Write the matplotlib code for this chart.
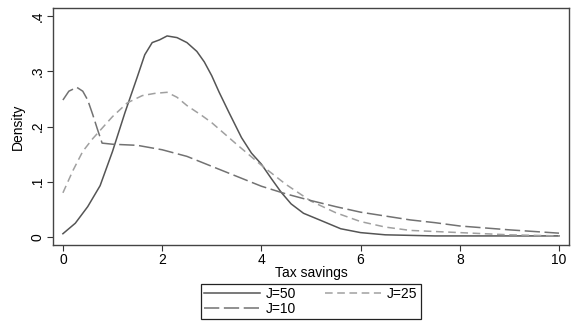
import matplotlib
matplotlib.use("Agg")
import matplotlib.pyplot as plt

plt.rcParams['font.family'] = ['Liberation Sans', 'DejaVu Sans']

# --- values ---
x50 = [0.0, 0.25, 0.5, 0.75, 1.0, 1.25, 1.5, 1.65, 1.8, 1.95, 2.1, 2.3, 2.5,
       2.7, 2.85, 3.0, 3.15, 3.35, 3.6, 3.8, 4.0, 4.2, 4.4, 4.6, 4.85, 5.2,
       5.6, 6.0, 6.5, 7.5, 10.0]
d50 = [0.006, 0.025, 0.055, 0.093, 0.155, 0.225, 0.29, 0.33, 0.352, 0.357,
       0.364, 0.361, 0.352, 0.336, 0.317, 0.292, 0.262, 0.225, 0.18, 0.152,
       0.132, 0.106, 0.081, 0.06, 0.043, 0.03, 0.015, 0.008, 0.004, 0.002,
       0.002]

x25 = [0.0, 0.2, 0.4, 0.6, 0.8, 1.0, 1.3, 1.6, 1.85, 2.1, 2.3, 2.5, 2.8, 3.0,
       3.5, 4.0, 4.5, 5.0, 5.5, 6.0, 6.5, 7.0, 8.0, 9.0, 10.0]
d25 = [0.08, 0.12, 0.155, 0.178, 0.198, 0.218, 0.243, 0.256, 0.26, 0.262,
       0.253, 0.238, 0.22, 0.207, 0.168, 0.13, 0.095, 0.065, 0.044, 0.028,
       0.018, 0.012, 0.008, 0.004, 0.002]

x10 = [0.0, 0.12, 0.28, 0.4, 0.5, 0.6, 0.7, 0.79, 1.0, 1.5, 2.0, 2.5, 3.0,
       3.5, 4.0, 4.5, 5.0, 5.5, 6.0, 6.5, 7.0, 7.5, 8.0, 9.0, 10.0]
d10 = [0.248, 0.264, 0.271, 0.264, 0.248, 0.222, 0.194, 0.17, 0.168, 0.166,
       0.158, 0.146, 0.128, 0.11, 0.092, 0.078, 0.066, 0.055, 0.045, 0.038,
       0.031, 0.026, 0.02, 0.013, 0.007]

xticks = [0, 2, 4, 6, 8, 10]
yticks = [0, 0.1, 0.2, 0.3, 0.4]
ylabels = ['0', '.1', '.2', '.3', '.4']

fs = 10

fig = plt.figure(figsize=(5.81, 3.22), dpi=100)
ax = fig.add_axes([0.0912, 0.239, 0.888, 0.736])

l50, = ax.plot(x50, d50, color='#555555', lw=1.1, label='J=50')
l25, = ax.plot(x25, d25, color='#a0a0a0', lw=1.1, dashes=(5, 3), label='J=25')
l10, = ax.plot(x10, d10, color='#727272', lw=1.1, dashes=(10, 3), label='J=10')

ax.set_xlim(-0.2, 10.2)
ax.set_ylim(-0.0145, 0.4145)
ax.set_xticks(xticks)
ax.set_xticklabels([str(t) for t in xticks])
ax.set_yticks(yticks)
ax.set_yticklabels(ylabels, rotation=90, va='center')
ax.tick_params(direction='out', length=4, width=0.8, colors='#333333',
               labelsize=fs, labelcolor='black', pad=2)
for s in ax.spines.values():
    s.set_color('#444444')
    s.set_linewidth(1.0)

ax.set_xlabel('Tax savings', fontsize=fs, labelpad=-1)
ax.set_ylabel('Density', fontsize=fs, labelpad=4)

# matplotlib fills legend columns first: order so rows read J=50, J=25 / J=10
leg = fig.legend([l50, l10, l25], ['J=50', 'J=10', 'J=25'],
                 loc='center', bbox_to_anchor=(0.535, 0.064), ncol=2,
                 fontsize=fs, handlelength=4.0, handletextpad=0.45,
                 columnspacing=2.1, labelspacing=0.05, borderpad=0.25,
                 fancybox=False, edgecolor='#222222', framealpha=1)
leg.get_frame().set_linewidth(0.9)

fig.savefig('out.png', dpi=100)
